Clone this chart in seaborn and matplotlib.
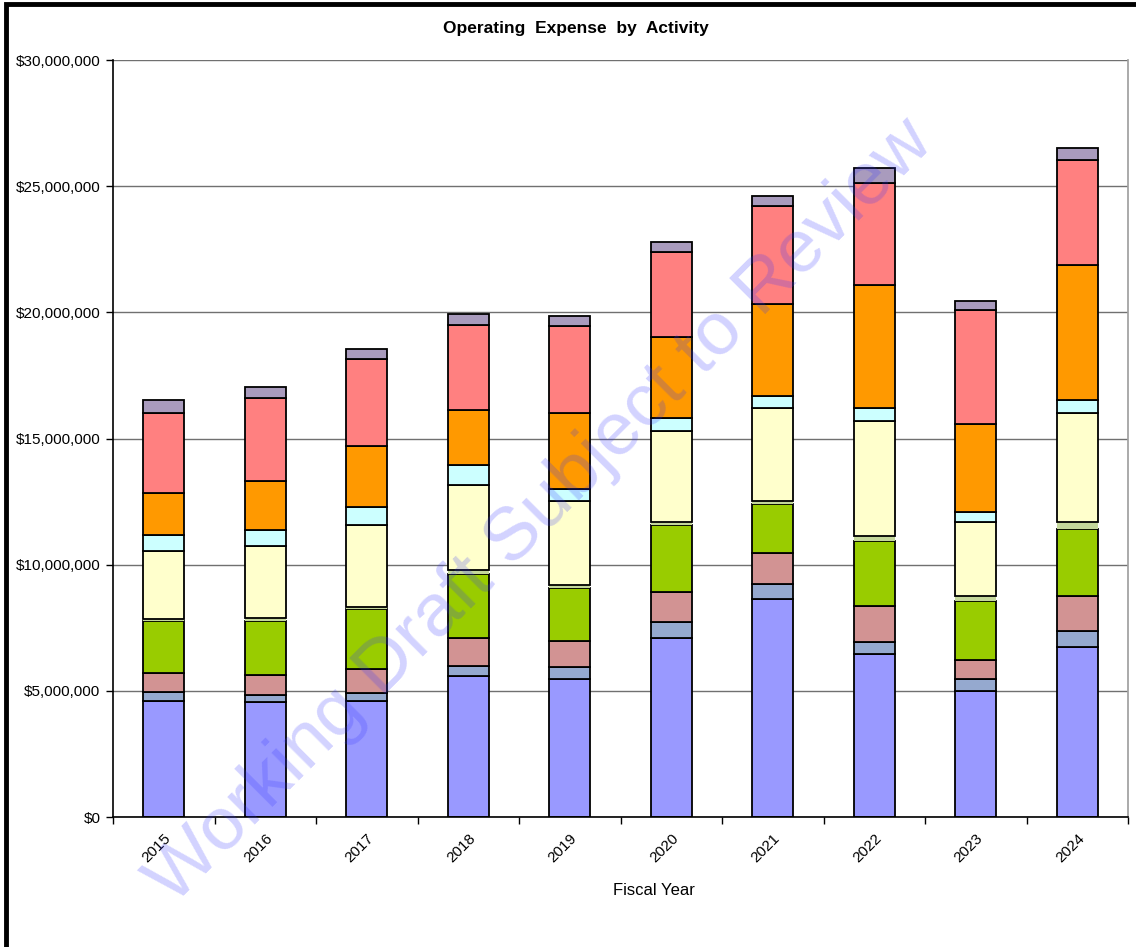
import seaborn as sns
import matplotlib.pyplot as plt
import pandas as pd
from matplotlib.patches import Rectangle
from matplotlib.ticker import FuncFormatter, MultipleLocator

sns.set_theme(style="white")
plt.rcParams['font.family'] = ['Liberation Sans', 'DejaVu Sans']

years = ["2015", "2016", "2017", "2018", "2019", "2020", "2021", "2022", "2023", "2024"]

# segment values in $ millions, bottom to top
layer_a = [4.61, 4.56, 4.61, 5.59, 5.48, 7.09, 8.65, 6.44, 5.00, 6.72]
layer_b = [0.36, 0.29, 0.32, 0.39, 0.48, 0.64, 0.60, 0.50, 0.48, 0.66]
layer_c = [0.75, 0.79, 0.92, 1.11, 1.00, 1.19, 1.20, 1.41, 0.73, 1.38]
layer_d = [2.06, 2.14, 2.41, 2.54, 2.12, 2.67, 1.94, 2.57, 2.34, 2.65]
layer_e = [0.08, 0.11, 0.08, 0.16, 0.10, 0.10, 0.13, 0.23, 0.21, 0.28]
layer_f = [2.70, 2.85, 3.23, 3.38, 3.33, 3.60, 3.67, 4.54, 2.93, 4.31]
layer_g = [0.62, 0.64, 0.70, 0.78, 0.50, 0.52, 0.50, 0.50, 0.38, 0.52]
layer_h = [1.67, 1.95, 2.43, 2.18, 3.02, 3.20, 3.64, 4.91, 3.52, 5.34]
layer_i = [3.18, 3.26, 3.44, 3.37, 3.43, 3.37, 3.88, 4.04, 4.51, 4.17]
layer_j = [0.50, 0.44, 0.40, 0.44, 0.40, 0.42, 0.40, 0.57, 0.35, 0.49]

layers = [layer_a, layer_b, layer_c, layer_d, layer_e, layer_f, layer_g, layer_h, layer_i, layer_j]
colors = ["#9999FF", "#95A9CF", "#D29393", "#99CC00", "#C4D79B",
          "#FFFFCC", "#CCFFFF", "#FF9900", "#FF8080", "#A99BBD"]

fig = plt.figure(figsize=(11.36, 9.47), dpi=100)
ax = fig.add_axes([113 / 1136, 1 - 817 / 947, (1128 - 113) / 1136, (817 - 60) / 947])

bottom = [0.0] * len(years)
for vals, col in zip(layers, colors):
    df = pd.DataFrame({"year": years, "value": [v * 1e6 for v in vals]})
    edge = "none" if col == "#C4D79B" else "black"
    sns.barplot(data=df, x="year", y="value", order=years, color=col, width=0.4,
                bottom=[b * 1e6 for b in bottom], edgecolor=edge, linewidth=1.3,
                saturation=1, ax=ax, errorbar=None)
    bottom = [b + v for b, v in zip(bottom, vals)]

ax.set_ylim(0, 30e6)
ax.set_xlim(-0.5, len(years) - 0.5)
ax.yaxis.set_major_locator(MultipleLocator(5e6))
ax.yaxis.set_major_formatter(FuncFormatter(lambda v, p: "${:,.0f}".format(v)))
ax.grid(axis="y", color="#707070", linewidth=1)
ax.set_axisbelow(True)

for s in ["left", "bottom"]:
    ax.spines[s].set_color("black")
    ax.spines[s].set_linewidth(1.2)
ax.spines["top"].set_visible(False)
ax.spines["right"].set_color("#A0A0A0")

ax.tick_params(axis="y", left=True, length=5, width=1, labelsize=11, colors="black", pad=4)
ax.tick_params(axis="x", bottom=False, labelsize=11, colors="black", pad=4)
ax.set_xticks(range(len(years)))
ax.set_xticklabels(years, rotation=45, ha="right", rotation_mode="anchor")
ax.set_xticks([i - 0.5 for i in range(len(years) + 1)], minor=True)
ax.tick_params(axis="x", which="minor", bottom=True, length=5, width=1, color="black")

ax.set_ylabel("")
ax.set_xlabel("Fiscal Year", fontsize=12, color="black")
ax.xaxis.set_label_coords((654 - 113) / 1015, -0.087)

fig.text(576 / 1136, 1 - 28 / 947, "Operating  Expense  by  Activity", ha="center", va="center",
         fontsize=12.5, fontweight="bold", color="black")

fig.text(541 / 1136, 1 - 512 / 947, "Working Draft Subject to Review", ha="center", va="center",
         rotation=45, fontsize=54, color="#3333FF", alpha=0.22, zorder=10)

fig.patches.append(Rectangle((6 / 1136, -0.1), 1.2, 1 - 4 / 947 + 0.1, transform=fig.transFigure,
                             fill=False, edgecolor="black", linewidth=3.5))

fig.savefig("out.png", dpi=100)
